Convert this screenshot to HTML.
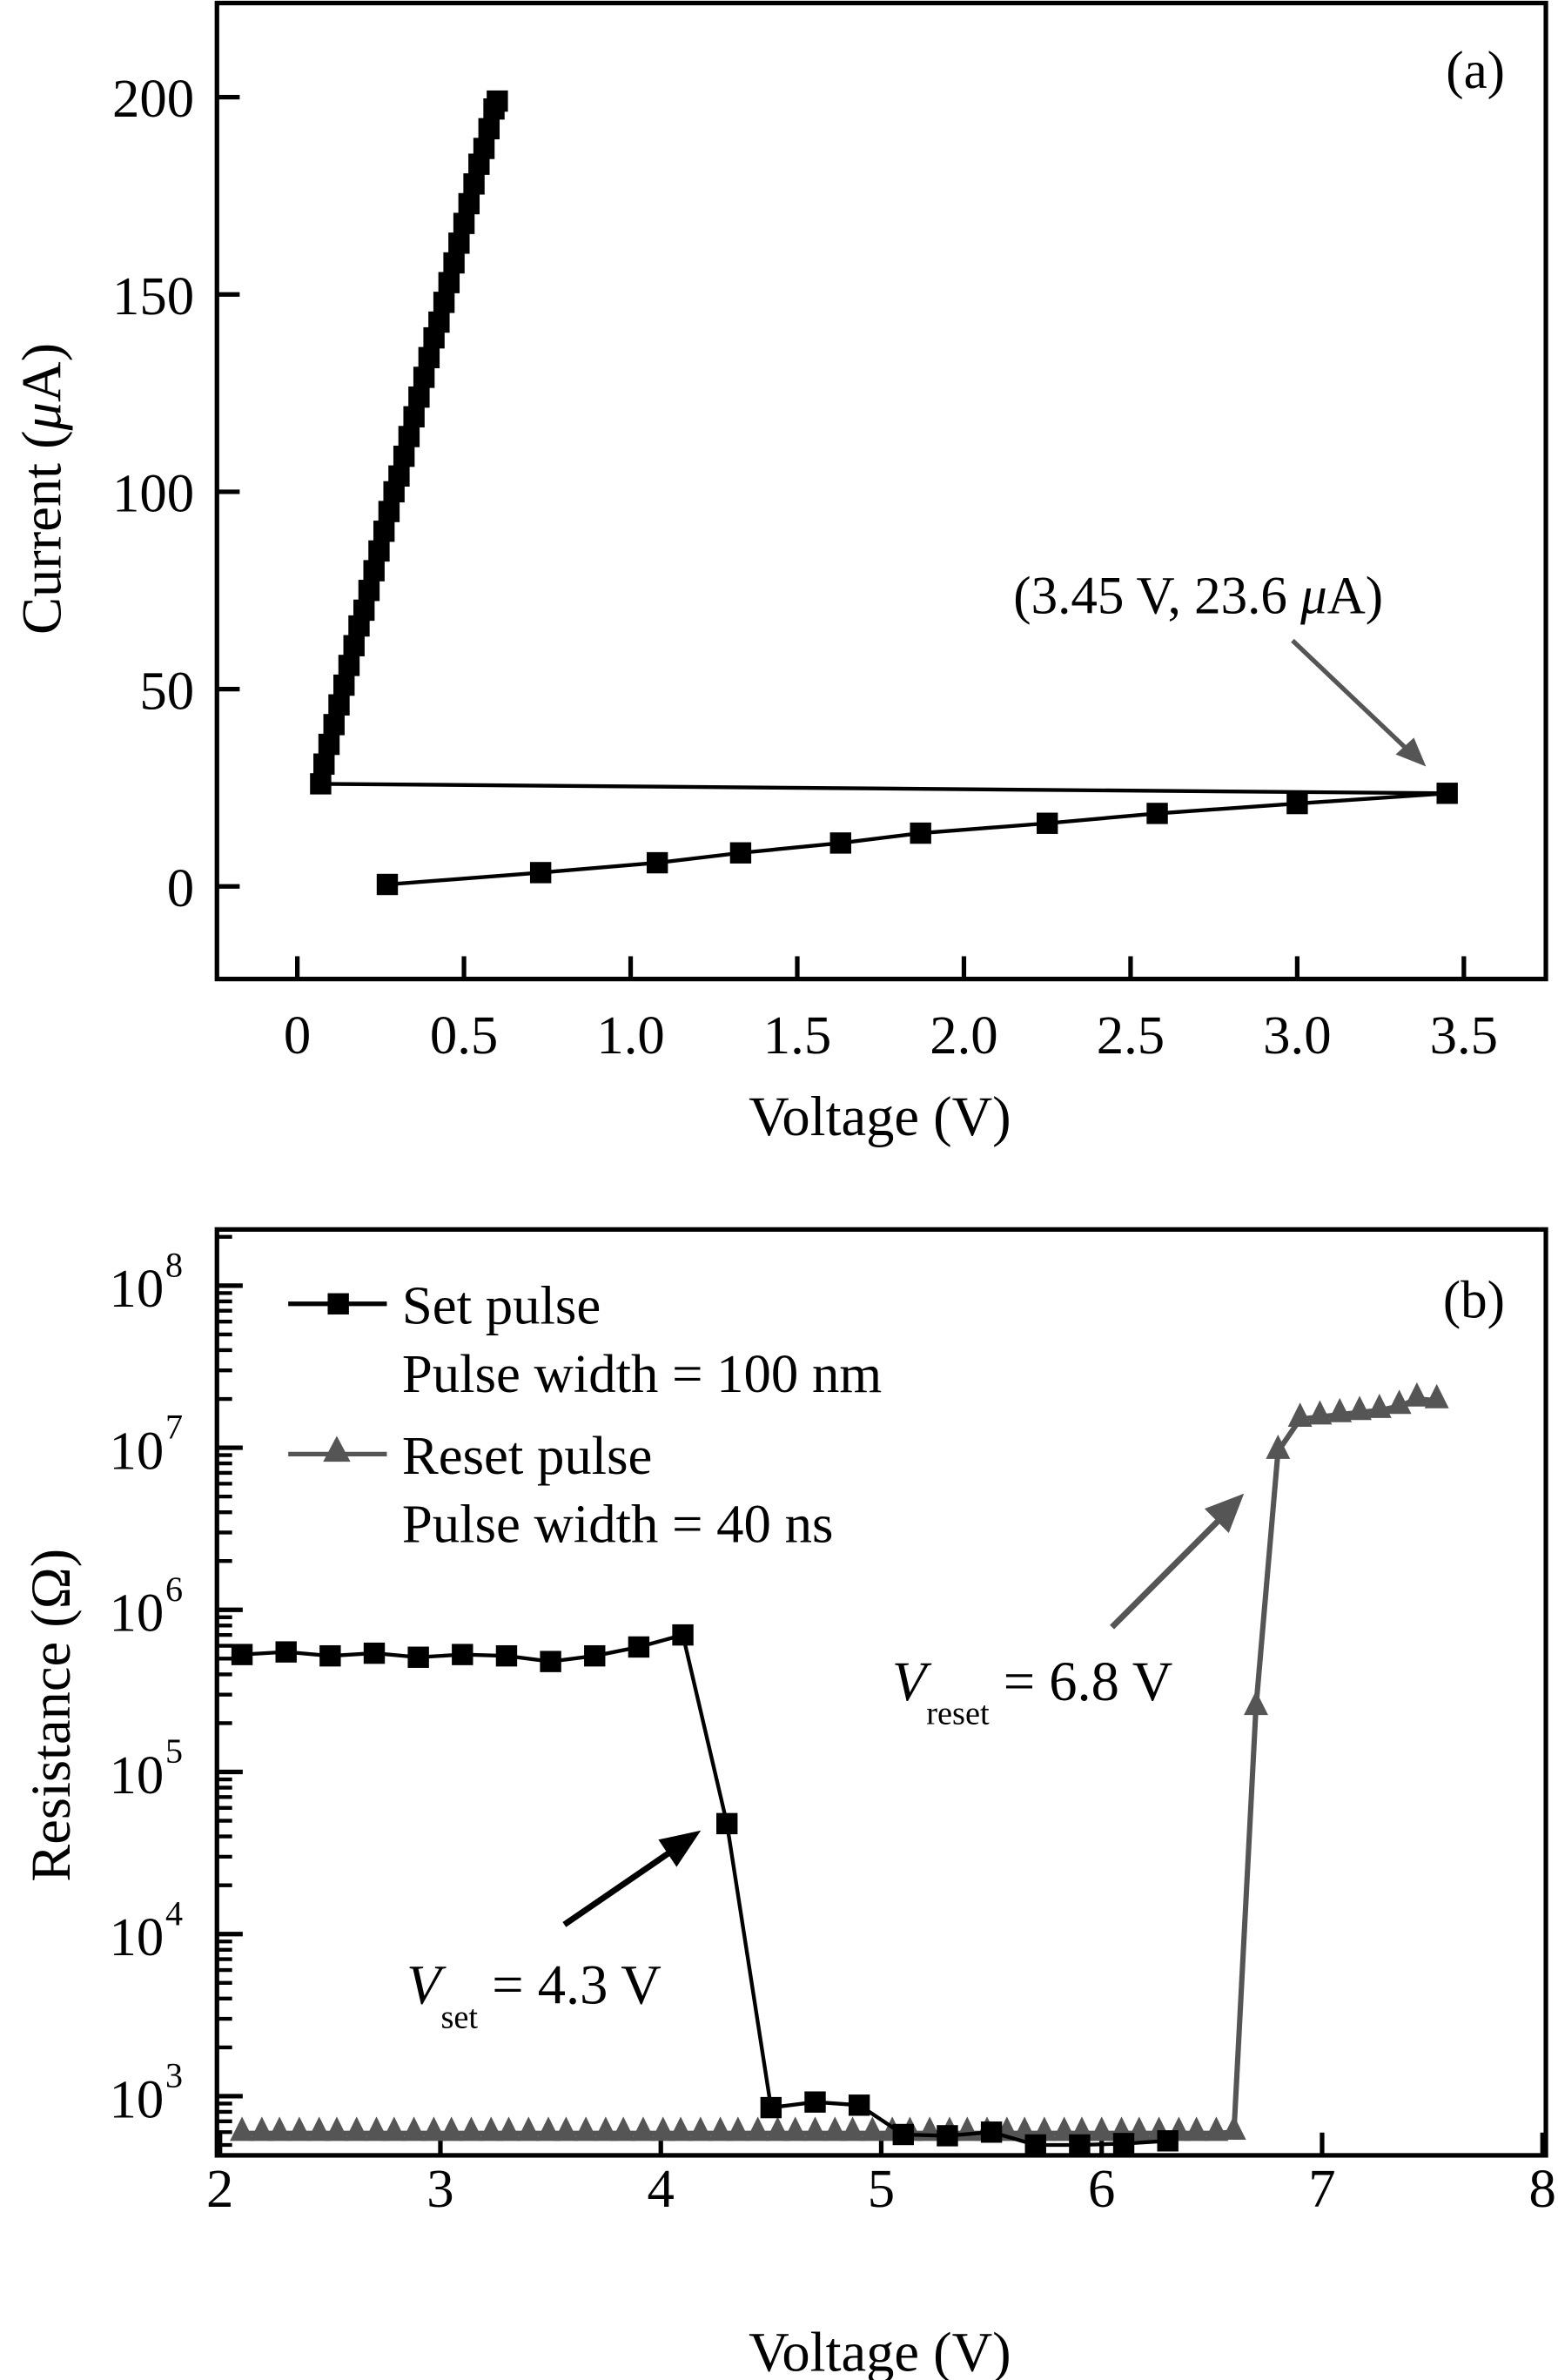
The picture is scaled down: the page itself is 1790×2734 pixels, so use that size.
<!DOCTYPE html>
<html><head><meta charset="utf-8"><style>
html,body{margin:0;padding:0;background:#fff;}
svg{display:block;}
text{font-family:"Liberation Serif",serif;}
</style></head><body>
<svg id="fig" width="1790" height="2734" viewBox="0 0 1027 1568" preserveAspectRatio="none" xmlns="http://www.w3.org/2000/svg">
<g id="pa"></g>
<g id="pb"></g>
</svg>
<script>
// Panel (a) data
const aSweepV = [0.07,0.08,0.095,0.11,0.125,0.14,0.155,0.17,0.185,0.2,0.215,0.23,0.245,0.26,0.275,0.29,0.305,0.32,0.335,0.35,0.365,0.38,0.395,0.41,0.425,0.44,0.455,0.47,0.485,0.5,0.515,0.53,0.545,0.56,0.575,0.59,0.6];
const aSweepI = [26,31,36,41,46,51,56,61,66,70,75,80,85,90,95,100,104,109,114,119,124,129,134,139,143,148,153,158,163,168,173,178,183,187,192,197,199];
const aLowV = [0.27,0.73,1.08,1.33,1.63,1.87,2.25,2.58,3.0,3.45];
const aLowI = [0.5,3.5,6,8.5,11,13.5,16,18.5,21,23.6];
const aReturnV = [0.07,3.45];
const aReturnI = [26,23.6];
const aXTicks = [0,0.5,1.0,1.5,2.0,2.5,3.0,3.5];
const aXTickLabels = ["0","0.5","1.0","1.5","2.0","2.5","3.0","3.5"];
const aYTicks = [0,50,100,150,200];
const aYTickLabels = ["0","50","100","150","200"];
// Panel (b) data
const setV = [2.1,2.3,2.5,2.7,2.9,3.1,3.3,3.5,3.7,3.9,4.1,4.3,4.5,4.7,4.9,5.1,5.3,5.5,5.7,5.9,6.1,6.3];
const setR = [5.3e5,5.5e5,5.2e5,5.4e5,5.1e5,5.3e5,5.2e5,4.8e5,5.2e5,5.9e5,7.0e5,4.8e4,850,920,880,580,570,600,500,500,510,530];
const resetV = [2.1,2.19,2.27,2.36,2.45,2.53,2.62,2.71,2.79,2.88,2.97,3.05,3.14,3.23,3.31,3.4,3.49,3.57,3.66,3.75,3.83,3.92,4.01,4.09,4.18,4.27,4.35,4.44,4.53,4.61,4.7,4.79,4.87,4.96,5.05,5.13,5.22,5.31,5.39,5.48,5.57,5.65,5.74,5.83,5.91,6.0,6.09,6.17,6.26,6.35,6.43,6.52,6.6,6.7,6.8,6.9,6.99,7.08,7.17,7.26,7.35,7.43,7.52];
const resetR = [590,590,590,590,590,590,590,590,590,590,590,590,590,590,590,590,590,590,590,590,590,590,590,590,590,590,590,590,590,590,590,590,590,590,590,590,590,590,590,590,590,590,590,590,590,590,590,590,590,590,590,590,600,2.5e5,9.5e6,1.5e7,1.55e7,1.6e7,1.65e7,1.7e7,1.8e7,2.0e7,1.95e7];
const bXTicks = [2,3,4,5,6,7,8];
const bXTickLabels = ["2","3","4","5","6","7","8"];
const bYExp = [3,4,5,6,7,8];

const NS="http://www.w3.org/2000/svg";
function mk(parent,tag,attrs,txt){const e=document.createElementNS(NS,tag);for(const k in attrs)e.setAttribute(k,attrs[k]);if(txt!==undefined)e.textContent=txt;parent.appendChild(e);return e;}

// ---------- Panel a ----------
const pa=document.getElementById('pa');
const ax=v=>196+v*219.7;
const ay=i=>584-i*2.6;
let e;
e=mk(pa,'rect',{x:143,y:2,width:876,height:643,fill:'none',stroke:'#000','stroke-width':3});


aXTicks.forEach((t,i)=>{
  e=mk(pa,'line',{x1:ax(t),x2:ax(t),y1:645,y2:630,stroke:'#000','stroke-width':3});
  
  
  e=mk(pa,'text',{x:ax(t),y:694,'font-size':36,'text-anchor':'middle'},aXTickLabels[i]);
  
  
});
aYTicks.forEach((t,i)=>{
  e=mk(pa,'line',{x1:143,x2:158,y1:ay(t),y2:ay(t),stroke:'#000','stroke-width':3});
  
  
  e=mk(pa,'text',{x:128,y:ay(t)+13,'font-size':36,'text-anchor':'end'},aYTickLabels[i]);
  
  
});
e=mk(pa,'text',{x:580,y:748,'font-size':37,'text-anchor':'middle'},'Voltage (V)');


e=mk(pa,'text',{x:0,y:0,'font-size':37,'text-anchor':'middle',transform:'translate(40,322) rotate(-90)'});
e.innerHTML='Current (<tspan font-style="italic">μ</tspan>A)';


e=mk(pa,'text',{x:992,y:58,'font-size':35,'text-anchor':'end'},'(a)');


e=mk(pa,'polyline',{points:aReturnV.map((v,i)=>ax(v)+','+ay(aReturnI[i])).join(' '),fill:'none',stroke:'#000','stroke-width':2.5});


e=mk(pa,'polyline',{points:aSweepV.map((v,i)=>ax(v)+','+ay(aSweepI[i])).join(' '),fill:'none',stroke:'#000','stroke-width':3});


aSweepV.forEach((v,i)=>{
  e=mk(pa,'rect',{x:ax(v)-7,y:ay(aSweepI[i])-7,width:14,height:14,fill:'#000'});
  
  
});
e=mk(pa,'polyline',{points:aLowV.map((v,i)=>ax(v)+','+ay(aLowI[i])).join(' '),fill:'none',stroke:'#000','stroke-width':2.5});


aLowV.forEach((v,i)=>{
  e=mk(pa,'rect',{x:ax(v)-7,y:ay(aLowI[i])-7,width:14,height:14,fill:'#000'});
  
  
});
e=mk(pa,'text',{x:668,y:404,'font-size':35},'');
e.innerHTML='(3.45 V, 23.6 <tspan font-style="italic">μ</tspan>A)';


e=mk(pa,'line',{x1:852,y1:422,x2:930,y2:496,stroke:'#555','stroke-width':3});


e=mk(pa,'polygon',{points:'940,505 920,497 932,486',fill:'#555'});



// ---------- Panel b ----------
const pb=document.getElementById('pb');
const bx=v=>145+(v-2)*145.3;
const by=r=>1381-(Math.log10(r)-3)*106.8;
e=mk(pb,'rect',{x:143,y:810,width:876,height:610,fill:'none',stroke:'#000','stroke-width':3});


bXTicks.forEach((t,i)=>{
  e=mk(pb,'line',{x1:bx(t),x2:bx(t),y1:1420,y2:1405,stroke:'#000','stroke-width':3});
  
  
  e=mk(pb,'text',{x:bx(t),y:1454,'font-size':36,'text-anchor':'middle'},bXTickLabels[i]);
  
  
});
for(let p=2;p<=8;p++){
  for(let m=1;m<=9;m++){
    const y=by(m*Math.pow(10,p));
    if(y<812||y>1418)continue;
    e=mk(pb,'line',{x1:143,x2:m===1?160:153,y1:y,y2:y,stroke:'#000','stroke-width':m===1?3:2.5});
    
    
  }
}
bYExp.forEach(p=>{
  e=mk(pb,'text',{x:108,y:by(Math.pow(10,p))+14,'font-size':36,'text-anchor':'end'},'10');
  
  
  e=mk(pb,'text',{x:109,y:by(Math.pow(10,p))-6,'font-size':23},String(p));
  
  
});
e=mk(pb,'text',{x:580,y:1562,'font-size':37,'text-anchor':'middle'},'Voltage (V)');


e=mk(pb,'text',{x:0,y:0,'font-size':37,'text-anchor':'middle',transform:'translate(46,1130) rotate(-90)'},'Resistance (Ω)');


e=mk(pb,'text',{x:992,y:868,'font-size':35,'text-anchor':'end'},'(b)');


e=mk(pb,'polyline',{points:resetV.map((v,i)=>bx(v)+','+by(resetR[i])).join(' '),fill:'none',stroke:'#555','stroke-width':3.5});


resetV.forEach((v,i)=>{
  const x=bx(v),y=by(resetR[i]);
  e=mk(pb,'polygon',{points:`${x-8},${y+5} ${x+8},${y+5} ${x},${y-11}`,fill:'#555'});
  
  
});
e=mk(pb,'polyline',{points:setV.map((v,i)=>bx(v)+','+by(setR[i])).join(' '),fill:'none',stroke:'#000','stroke-width':2.5});


setV.forEach((v,i)=>{
  e=mk(pb,'rect',{x:bx(v)-7,y:by(setR[i])-7,width:14,height:14,fill:'#000'});
  
  
});
// legend
e=mk(pb,'line',{x1:190,x2:255,y1:859,y2:859,stroke:'#000','stroke-width':3});


e=mk(pb,'rect',{x:216,y:852,width:14,height:14,fill:'#000'});


e=mk(pb,'text',{x:265,y:872,'font-size':36},'Set pulse');


e=mk(pb,'text',{x:265,y:917,'font-size':36},'Pulse width = 100 nm');


e=mk(pb,'line',{x1:190,x2:255,y1:958,y2:958,stroke:'#555','stroke-width':3});


e=mk(pb,'polygon',{points:'213,963 231,963 222,946',fill:'#555'});


e=mk(pb,'text',{x:265,y:971,'font-size':36},'Reset pulse');


e=mk(pb,'text',{x:265,y:1016,'font-size':36},'Pulse width = 40 ns');


// annotations
e=mk(pb,'line',{x1:372,y1:1268,x2:445,y2:1218,stroke:'#000','stroke-width':4});


e=mk(pb,'polygon',{points:'462,1206 446,1230 434,1212',fill:'#000'});


e=mk(pb,'text',{x:268,y:1320,'font-size':37},'');
e.innerHTML='<tspan font-style="italic">V</tspan><tspan font-size="22" dy="16">set</tspan><tspan dy="-16"> = 4.3 V</tspan>';


e=mk(pb,'line',{x1:733,y1:1072,x2:805,y2:1000,stroke:'#555','stroke-width':4});


e=mk(pb,'polygon',{points:'820,984 810,1010 794,994',fill:'#555'});


e=mk(pb,'text',{x:588,y:1120,'font-size':37},'');
e.innerHTML='<tspan font-style="italic">V</tspan><tspan font-size="22" dy="16">reset</tspan><tspan dy="-16"> = 6.8 V</tspan>';


</script>
</body></html>
